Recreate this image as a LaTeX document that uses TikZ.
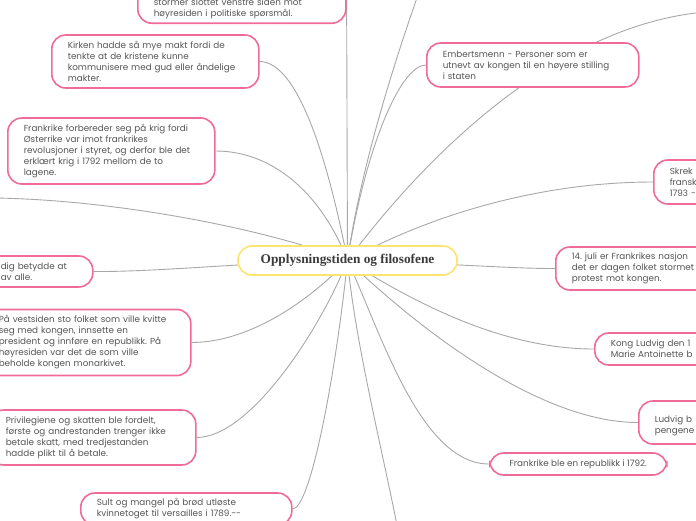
\documentclass[tikz,border=0pt]{standalone}
\usepackage{fontspec}
\setmainfont{Poppins}
\newfontfamily\titlefont{Liberation Serif}
\usetikzlibrary{backgrounds}
\frenchspacing

\definecolor{leafpink}{HTML}{F06C96}
\definecolor{rootyellow}{HTML}{FCE46E}
\definecolor{linkgrey}{HTML}{A8A8A8}
\definecolor{inkgrey}{HTML}{555555}

\tikzset{
  root/.style={draw=rootyellow, line width=1.6pt, rounded corners=14pt, fill=white,
    minimum width=219, minimum height=29, text=inkgrey!70!black,
    font=\titlefont\bfseries\fontsize{13.3}{15}\selectfont},
  leaf/.style={draw=leafpink, line width=1.6pt, rounded corners=14pt, fill=white,
    align=left, text=inkgrey, inner xsep=16pt, inner ysep=3pt,
    font=\fontsize{8.8}{11}\selectfont},
  link/.style={draw=linkgrey, line width=0.9pt}
}

\begin{document}
\begin{tikzpicture}[x=1pt,y=-1pt]
  \useasboundingbox (0,0) rectangle (696,520);

  \node[root] (root) at (347.5,260.5) {Opplysningstiden og filosofene};

  % venstre side
  \node[leaf, anchor=south west, minimum height=51, text width=176] (stormer) at (137,24)
    {\strut\\\strut\\stormer slottet venstre siden mot\\høyresiden i politiske spørsmål.};
  \node[leaf, anchor=west, minimum height=53, text width=175] (kirken) at (51,61.5)
    {Kirken hadde så mye makt fordi de\\tenkte at de kristene kunne\\kommunisere med gud eller åndelige\\makter.};
  \node[leaf, anchor=west, minimum height=66, text width=175] (krig) at (7,151)
    {Frankrike forbereder seg på krig fordi\\Østerrike var imot frankrikes\\revolusjoner i styret, og derfor ble det\\erklært krig i 1792 mellom de to\\lagene.};
  \coordinate (venstre) at (-5,198);
  \node[leaf, anchor=west, minimum height=31, text width=76] (betydde) at (-16,271.5)
    {dig betydde at\\av alle.};
  \node[leaf, anchor=west, minimum height=66, text width=176] (vestsiden) at (-18,342.5)
    {På vestsiden sto folket som ville kvitte\\seg med kongen, innsette en\\president og innføre en republikk. På\\høyresiden var det de som ville\\beholde kongen monarkivet.};
  \node[leaf, anchor=west, minimum height=55, text width=174] (skatt) at (-11,437.5)
    {Privilegiene og skatten ble fordelt,\\første og andrestanden trenger ikke\\betale skatt, med tredjestanden\\hadde plikt til å betale.};
  \node[leaf, anchor=west, minimum height=32, text width=179] (sult) at (80,509)
    {Sult og mangel på brød utløste\\kvinnetoget til versailles i 1789.-{}-};

  % høyre side
  \coordinate (topp) at (418,-5);
  \coordinate (hjorne) at (705,12);
  \node[leaf, anchor=west, minimum height=44, text width=180] (embets) at (426,65)
    {Embertsmenn - Personer som er\\utnevt av kongen til en høyere stilling\\i staten};
  \node[leaf, anchor=west, minimum height=44, text width=200] (skrek) at (653,182)
    {Skrek\\fransk\\1793 -};
  \node[leaf, anchor=west, minimum height=43, text width=200] (juli) at (555,268.5)
    {14. juli er Frankrikes nasjon\\det er dagen folket stormet\\protest mot kongen.};
  \node[leaf, anchor=west, minimum height=32, text width=200] (kong) at (594,349)
    {Kong Ludvig den 1\\Marie Antoinette b};
  \node[leaf, anchor=west, minimum height=43, text width=200] (ludvig) at (638,422.5)
    {\raisebox{-6pt}[0pt][0pt]{\parbox{200pt}{Ludvig b\\pengene}}};
  \node[leaf, anchor=west, minimum height=22, minimum width=177, inner xsep=12pt] (republikk) at (489,464)
    {Frankrike ble en republikk i 1792.};
  \coordinate (bunn) at (398,530);

  \begin{scope}[on background layer]
    \draw[link] (root.center) -- (stormer.east);
    \draw[link] (kirken.east) .. controls (300,61.5) and (330,170) .. (root.center);
    \draw[link] (krig.east) .. controls (270,151) and (320,190) .. (root.center);
    \draw[link] (venstre) .. controls (120,200) and (270,230) .. (root.center);
    \draw[link] (betydde.east) .. controls (160,272) and (250,262) .. (root.center);
    \draw[link] (vestsiden.east) .. controls (250,342.5) and (310,300) .. (root.center);
    \draw[link] (skatt.east) .. controls (250,437.5) and (320,330) .. (root.center);
    \draw[link] (sult.east) .. controls (310,509) and (335,380) .. (root.center);
    \draw[link] (topp) .. controls (395,60) and (360,170) .. (root.center);
    \draw[link] (hjorne) .. controls (560,25) and (430,150) .. (root.center);
    \draw[link] (embets.west) .. controls (400,65) and (365,150) .. (root.center);
    \draw[link] (skrek.west) .. controls (540,182) and (430,215) .. (root.center);
    \draw[link] (juli.west) .. controls (510,268.5) and (480,265) .. (root.center);
    \draw[link] (kong.west) .. controls (500,349) and (410,300) .. (root.center);
    \draw[link] (ludvig.west) .. controls (540,422.5) and (420,330) .. (root.center);
    \draw[link] (republikk.west) .. controls (420,464) and (380,330) .. (root.center);
    \draw[link] (bunn) .. controls (380,440) and (355,340) .. (root.center);
  \end{scope}
\end{tikzpicture}
\end{document}
